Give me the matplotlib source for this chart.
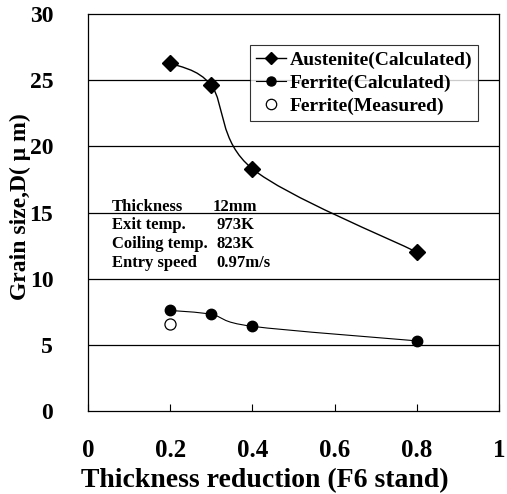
import numpy as np
import matplotlib
matplotlib.use("Agg")
import matplotlib.pyplot as plt
from matplotlib.path import Path
from matplotlib.patches import PathPatch

plt.rcParams["font.family"] = ["Liberation Serif", "DejaVu Serif"]
plt.rcParams["font.weight"] = "bold"

# data
reduction = [0.2, 0.3, 0.4, 0.8]
austenite_calc = [26.3, 24.6, 18.3, 12.0]
ferrite_calc = [7.6, 7.3, 6.4, 5.3]
ferrite_meas_x = [0.2]
ferrite_meas = [6.6]

x_ticks = [0, 0.2, 0.4, 0.6, 0.8, 1]
x_tick_labels = ["0", "0.2", "0.4", "0.6", "0.8", "1"]
y_ticks = [0, 5, 10, 15, 20, 25, 30]

conditions = [("Thickness", "12mm"), ("Exit temp.", "973K"),
              ("Coiling temp.", "823K"), ("Entry speed", "0.97m/s")]


def smooth_path(xs, ys, tension=1 / 6):
    # Excel-like smoothed line: cubic Bezier through the data points
    pts = np.column_stack([xs, ys])
    verts = [pts[0]]
    codes = [Path.MOVETO]
    n = len(pts)
    for i in range(n - 1):
        p0 = pts[i - 1] if i > 0 else pts[i]
        p1 = pts[i]
        p2 = pts[i + 1]
        p3 = pts[i + 2] if i + 2 < n else pts[i + 1]
        c1 = p1 + (p2 - p0) * tension
        c2 = p2 - (p3 - p1) * tension
        verts += [c1, c2, p2]
        codes += [Path.CURVE4] * 3
    return Path(verts, codes)


fig = plt.figure(figsize=(5.07, 4.94), dpi=100)
ax = fig.add_axes([0.1736, 0.168, 0.8107, 0.8036])

for yv in y_ticks[1:-1]:
    ax.axhline(yv, color="black", lw=0.9, zorder=1)

ax.add_patch(PathPatch(smooth_path(reduction, austenite_calc), fill=False,
                       color="black", lw=1.0, zorder=2))
ax.add_patch(PathPatch(smooth_path(reduction, ferrite_calc), fill=False,
                       color="black", lw=0.8, zorder=2))
ax.plot(reduction, austenite_calc, ls="none", marker="D", ms=8.5,
        color="black", zorder=3)
ax.plot(reduction, ferrite_calc, ls="none", marker="o", ms=7.5,
        color="black", zorder=3)
ax.plot(ferrite_meas_x, ferrite_meas, ls="none", marker="o", ms=8,
        mfc="white", mec="black", mew=0.9, zorder=3)

# legend handles
h1, = ax.plot([], [], "-", marker="D", ms=6.5, color="black", lw=1.0)
h2, = ax.plot([], [], "-", marker="o", ms=6.5, color="black", lw=0.8)
h3, = ax.plot([], [], ls="none", marker="o", ms=7.5, mfc="white",
              mec="black", mew=0.9)
leg = ax.legend([h1, h2, h3],
                ["Austenite(Calculated)", "Ferrite(Calculated)", "Ferrite(Measured)"],
                loc="upper right", bbox_to_anchor=(0.949, 0.922),
                prop={"size": 14, "weight": "bold"}, frameon=True,
                fancybox=False, handlelength=1.55, handletextpad=0.2,
                borderpad=0.3, labelspacing=0.28, borderaxespad=0)
leg.get_frame().set_edgecolor("black")
leg.get_frame().set_linewidth(0.8)

for i, (name, val) in enumerate(conditions):
    yy = 15.45 - i * 1.43
    ax.text(0.058, yy, name, fontsize=12, fontweight="bold", va="center")
    ax.text(0.303 if i == 0 else 0.313, yy, val, fontsize=12,
            fontweight="bold", va="center", ha="left")

ax.set_xlim(0, 1)
ax.set_ylim(0, 30)
ax.set_xticks(x_ticks)
ax.set_xticklabels(x_tick_labels, fontsize=18, fontweight="bold")
ax.set_yticks(y_ticks)
ax.set_yticklabels([str(v) for v in y_ticks], fontsize=17, fontweight="bold")
ax.tick_params(axis="x", direction="in", length=5, pad=20)
ax.tick_params(axis="y", length=0, pad=25)
for s in ax.spines.values():
    s.set_linewidth(0.9)

ax.set_xlabel("Thickness reduction (F6 stand)", fontsize=20, fontweight="bold")
ax.xaxis.set_label_coords(0.43, -0.145)
ax.set_ylabel("Grain size,D( μ m)", fontsize=17, fontweight="bold")
ax.yaxis.set_label_coords(-0.138, 0.516)

fig.savefig("out.png", dpi=100)
